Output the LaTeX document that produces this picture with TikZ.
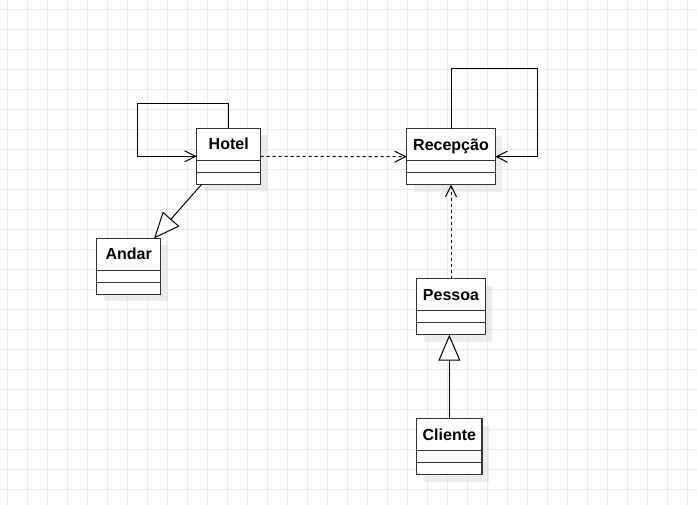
\documentclass[tikz,border=0pt]{standalone}
\usepackage{fontspec}
\setmainfont{Liberation Sans}
\usepackage{xcolor}
\usepackage{tikz}
\usetikzlibrary{positioning,arrows.meta,shadows}
\definecolor{umlline}{HTML}{333333}
\definecolor{gridgray}{HTML}{EBEBEB}

\begin{document}
\begin{tikzpicture}[x=1pt,y=-1pt,
	gridline/.style={draw=gridgray,line width=1pt},
	classhead/.style={draw=umlline,line width=1.4pt,fill=white,anchor=north west,outer sep=0pt,inner sep=0pt,minimum height=32pt,text height=11.5pt,text depth=0.5pt,font=\bfseries\fontsize{16}{19}\selectfont,drop shadow={shadow xshift=7pt,shadow yshift=-7pt,fill=black!14}},
	classfield/.style={draw=umlline,line width=1.4pt,fill=white,outer sep=0pt,inner sep=0pt,minimum height=12pt,drop shadow={shadow xshift=7pt,shadow yshift=-7pt,fill=black!14}},
	assoc/.style={draw=black,line width=1pt,-{Straight Barb[length=11pt,width=11pt]}},
	depend/.style={assoc,dash pattern=on 3pt off 3pt},
	inherit/.style={draw=black,line width=1pt,-{Triangle[open,fill=white,length=26pt,width=22pt]}}]
			\useasboundingbox (0,0) rectangle (697,505);
			\fill[white] (0,0) rectangle (697,505);
			\foreach \x in {7.5,27.5,...,697} \draw[gridline] (\x,0) -- (\x,505);
			\foreach \y in {9.5,29.5,...,505} \draw[gridline] (0,\y) -- (697,\y);
			
			\coordinate (photel) at (196.7,128.3);
			\coordinate (pandar) at (96.7,238.5);
			\coordinate (precep) at (406.7,128.7);
			\coordinate (ppessoa) at (416.7,278.7);
			\coordinate (pcliente) at (416.7,418.5);
			
			\node (hotel) at (photel) [classhead,minimum width=64pt] {Hotel};
			\node (hotelA) [classfield,minimum width=64pt,below=0pt of hotel] {};
			\node (hotelB) [classfield,minimum width=64pt,below=0pt of hotelA] {};
			\node (andar) at (pandar) [classhead,minimum width=64pt] {Andar};
			\node (andarA) [classfield,minimum width=64pt,below=0pt of andar] {};
			\node (andarB) [classfield,minimum width=64pt,below=0pt of andarA] {};
			\node (recep) at (precep) [classhead,minimum width=88.6pt] {Recepção};
			\node (recepA) [classfield,minimum width=88.6pt,below=0pt of recep] {};
			\node (recepB) [classfield,minimum width=88.6pt,below=0pt of recepA] {};
			\node (pessoa) at (ppessoa) [classhead,minimum width=68.6pt] {Pessoa};
			\node (pessoaA) [classfield,minimum width=68.6pt,below=0pt of pessoa] {};
			\node (pessoaB) [classfield,minimum width=68.6pt,below=0pt of pessoaA] {};
			\node (cliente) at (pcliente) [classhead,minimum width=65.3pt] {Cliente};
			\node (clienteA) [classfield,minimum width=65.3pt,below=0pt of cliente] {};
			\node (clienteB) [classfield,minimum width=65.3pt,below=0pt of clienteA] {};
			
			\draw[assoc] (hotel.north) -- ++(0,-24.3) -- ++(-91.7,0) |- ([yshift=4pt]hotel.south west);
			\draw[depend] ([yshift=4pt]hotel.south east) -- ([yshift=4pt]recep.south west);
			\draw[assoc] (recep.north) -- ++(0,-59.7) -- ++(86.6,0) |- ([yshift=4pt]recep.south east);
			\draw[depend] (pessoa.north) -- (recepB.south);
			\draw[inherit] ([xshift=5pt]hotelB.south west) -- ([xshift=-6.7pt]andar.north east);
			\draw[inherit] (cliente.north) -- (cliente.north |- pessoaB.south);
		\end{tikzpicture}
\end{document}
